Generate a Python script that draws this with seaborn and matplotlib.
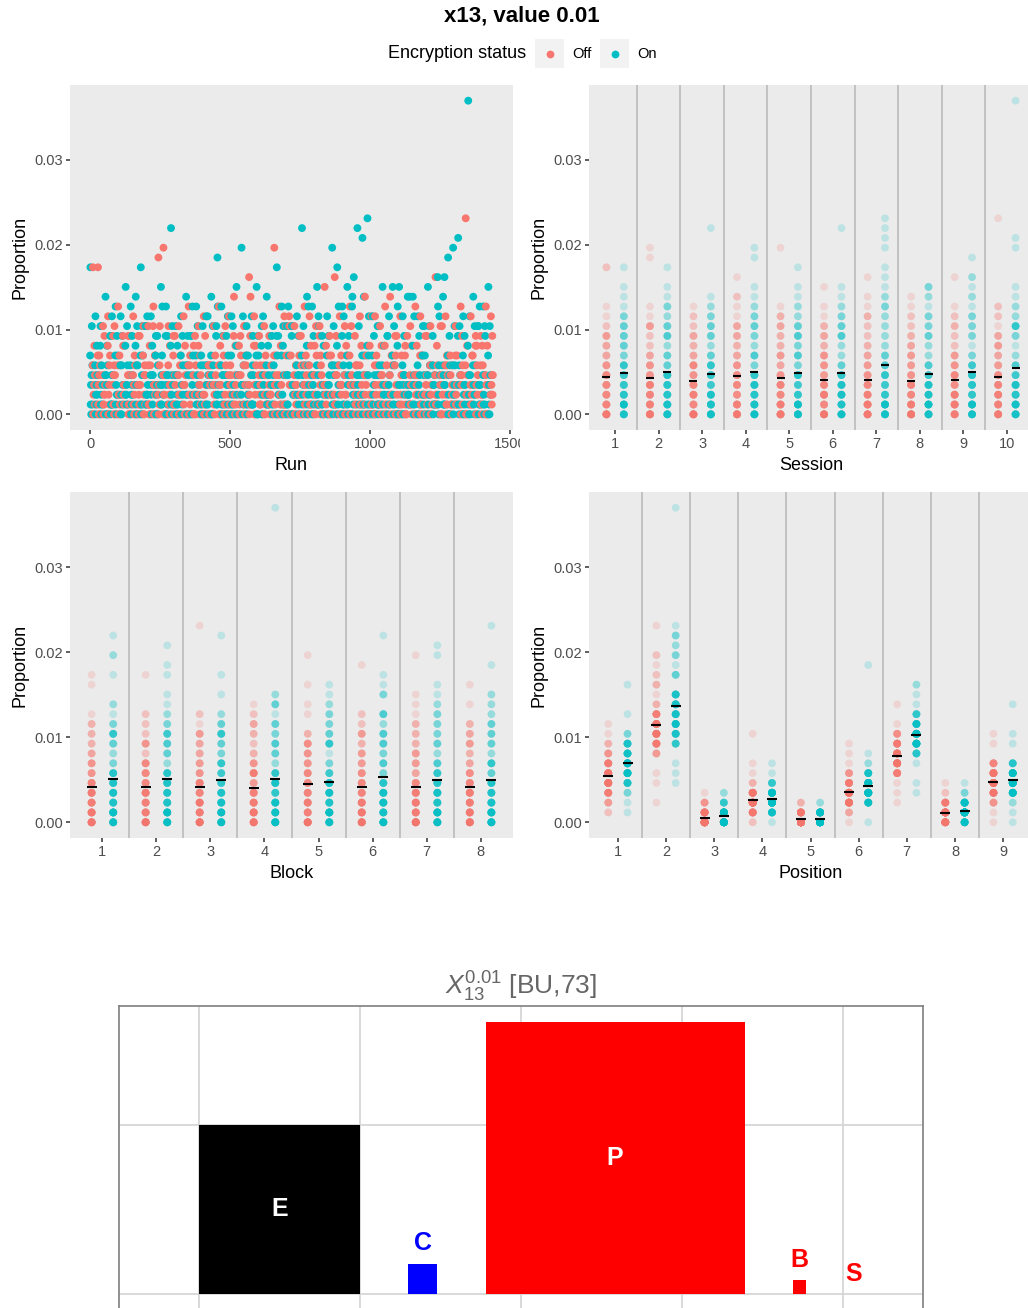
import numpy as np
import pandas as pd
import matplotlib
matplotlib.use("Agg")
import matplotlib.pyplot as plt
from matplotlib.patches import Rectangle
from matplotlib.lines import Line2D
from matplotlib.ticker import FormatStrFormatter
from matplotlib.transforms import Bbox, TransformedBbox
import seaborn as sns

plt.rcParams['font.family'] = ['Liberation Sans', 'DejaVu Sans']
plt.rcParams['mathtext.fontset'] = 'custom'
plt.rcParams['mathtext.rm'] = 'Liberation Sans'
plt.rcParams['mathtext.it'] = 'Liberation Sans:italic'
plt.rcParams['mathtext.bf'] = 'Liberation Sans:bold'

# ---------------- data ----------------
STATUS = ["Off", "On"]
PALETTE = {"Off": "#F8766D", "On": "#00BFC4"}
COUNT_UNIT = 1 / 865          # proportion per observed count
RUNS_PER_SESSION, RUNS_PER_BLOCK, N_POS = 144, 18, 9

# counts (base-36 digits) per position; each string = sessions 1..10, 8 blocks each
OFF_COUNTS = [
    "56473584 43659245 64354725 35648453 7453641a 46354836 25463547 53745164 46254356 64537542",
    "ff9a8b78 a899bgh9 89ab79a5 9b8ac79e a898hba9 98ba79d8 ea9b8ac2 a9bc8a79 ba89e9a4 9bka88ba",
    "01001020 10010001 00100200 10001010 02010003 00100100 10002010 01010001 00201001 10010102",
    "23124231 32213322 12320324 23122192 31223213 22512320 13231222 32126213 21322421 23213233",
    "00100010 01000100 10002000 00010001 01001000 00010020 10000100 00100001 01001010 10020001",
    "34235234 23413523 42352313 35234238 23423143 32342632 43235231 24323403 32432352 34237234",
    "76859678 68576947 85768685 6795786c 75686796 58679576 8679576a 67568627 76857963 68765778",
    "10210120 01102103 12010110 20101401 01120110 10211012 02101101 11020130 20111011 11012102",
    "45364534 53456342 36425435 43543654 54254369 35436425 43645341 54352483 46435245 35464504",
]
ON_COUNTS = [
    "65748657 57694638 74658655 68546726 46753869 85674516 5786b467 64586753 75648e56 58675946",
    "fa9c8bad bcf9a8db j9ac8b6a c9b8adh9 ad9c8fb4 9ajcbd8a hfbdcjik a9d8dbac ca9d5bcg hiawc9bd",
    "10100102 01012010 10020101 01100031 10011000 02100110 10010201 01101002 10200110 01013010",
    "32241322 23123243 21324213 42231230 13223621 32412232 25132324 21322132 32213242 23221323",
    "01001001 10010010 00100200 01001001 10010001 00200100 01001010 10010001 00101010 10000101",
    "43534253 35424364 42353425 3g432432 53424374 24353423 43543246 34235342 43423534 35342340",
    "9797a889 899a78b8 9788b99a 9b8a97a6 88a7989b 989b8a78 9ba8e9ca 897a9d83 a8994ae8 998a9b99",
    "12101211 20121031 11202101 02110412 10211210 21021103 12102111 01211021 11021310 21102112",
    "54354635 45634524 34546354 53463453 46345246 34534934 53453460 4534534c 34651435 54345384",
]

# bottom panel: square glyph sizes
LETTERS = ["E", "C", "P", "B", "S"]
SIDES = [1.0, 0.18, 1.61, 0.08, 0.0]
LETTER_COLORS = ["black", "blue", "red", "red", "red"]

rows = []
for status, table in zip(STATUS, [OFF_COUNTS, ON_COUNTS]):
    for pos, s in enumerate(table, start=1):
        vals = [int(c, 36) for c in s.replace(" ", "")]
        for i, k in enumerate(vals):
            sess, blk = i // 8 + 1, i % 8 + 1
            run = ((sess - 1) * RUNS_PER_SESSION + (blk - 1) * RUNS_PER_BLOCK
                   + (0 if status == "On" else N_POS) + (pos - 1))
            rows.append(dict(Run=run, Session=sess, Block=blk, Position=pos,
                             Status=status, Proportion=k * COUNT_UNIT))
df = pd.DataFrame(rows).sort_values("Run").reset_index(drop=True)

ymax = df["Proportion"].max()
ylo, yhi = -0.05 * ymax, 1.05 * ymax

# ---------------- figure ----------------
W, H = 1028, 1308
fig = plt.figure(figsize=(W / 100, H / 100), dpi=100)

def rect(l, t, r, b):
    return [l / W, 1 - b / H, (r - l) / W, (b - t) / H]

ax1 = fig.add_axes(rect(70, 85, 513, 430))
ax2 = fig.add_axes(rect(589, 85, 1033, 430))
ax3 = fig.add_axes(rect(70, 492, 513, 838))
ax4 = fig.add_axes(rect(589, 492, 1032, 838))

def style(ax, xlabel):
    ax.set_facecolor('#EBEBEB')
    for sp in ax.spines.values():
        sp.set_visible(False)
    ax.tick_params(length=2.75, width=1.1, color='#333333', labelcolor='#4D4D4D',
                   labelsize=10.5, pad=2.2)
    ax.set_ylim(ylo, yhi)
    ax.set_yticks([0, 0.01, 0.02, 0.03])
    ax.yaxis.set_major_formatter(FormatStrFormatter('%.2f'))
    ax.set_ylabel('Proportion', fontsize=13, labelpad=4)
    ax.set_xlabel(xlabel, fontsize=13, labelpad=4.5)
    ax.grid(False)

# Run scatter
sns.scatterplot(data=df, x="Run", y="Proportion", hue="Status", hue_order=STATUS,
                palette=PALETTE, s=32, linewidth=0, legend=False, ax=ax1)
style(ax1, "Run")
rmax = df["Run"].max()
ax1.set_xlim(-0.05 * rmax, 1.05 * rmax)
ax1.set_xticks([0, 500, 1000, 1500])
clip = TransformedBbox(Bbox([[0, 0], [520 / W, 1]]), fig.transFigure)
for lab in ax1.get_xticklabels():
    lab.set_clip_box(clip)
    lab.set_clip_on(True)

# categorical strip panels
for ax, col in [(ax2, "Session"), (ax3, "Block"), (ax4, "Position")]:
    n = df[col].nunique()
    sns.stripplot(data=df, x=col, y="Proportion", hue="Status", hue_order=STATUS,
                  palette=PALETTE, dodge=True, jitter=False, size=5.6, alpha=0.2,
                  linewidth=0, legend=False, ax=ax, zorder=2)
    for b in np.arange(n - 1) + 0.5:
        ax.axvline(b, color='#BEBEBE', lw=1.3, zorder=1)
    ppu = ax.get_position().width * W / (n + 0.2)
    ms = 0.2 * ppu * 0.72
    sns.pointplot(data=df, x=col, y="Proportion", hue="Status", hue_order=STATUS,
                  palette={"Off": "black", "On": "black"}, markers="_", linestyles="none",
                  dodge=0.4, errorbar=None, legend=False, ax=ax,
                  markersize=ms, markeredgewidth=1.5, zorder=3)
    style(ax, col)
    ax.set_xlim(-0.6, n - 0.4)

# title & legend
fig.text(522 / W, 1 - 16 / H, "x13, value 0.01", ha='center', va='center',
         fontsize=16, fontweight='bold')
fig.text(526 / W, 1 - 53.5 / H, "Encryption status", ha='right', va='center', fontsize=13)
for i, s in enumerate(STATUS):
    kx = 535 + 65 * i
    fig.patches.append(Rectangle((kx / W, 1 - 68 / H), 29 / W, 29 / H,
                                 transform=fig.transFigure, facecolor='#F2F2F2',
                                 edgecolor='none'))
    fig.lines.append(Line2D([(kx + 14.5) / W], [1 - 53.5 / H], transform=fig.transFigure,
                            marker='o', ls='none', color=PALETTE[s], markersize=5.6,
                            markeredgewidth=0))
    fig.text((kx + 37) / W, 1 - 53.5 / H, s, ha='left', va='center', fontsize=10.5)

# bottom square-glyph panel
GAP = 0.3
ylim5 = (-0.3, 1.704)
bottom_px = 1294 + 0.3 * 169
ax5 = fig.add_axes(rect(119, 1006, 923, bottom_px))
sides = np.array(SIDES)
lefts = np.concatenate([[0], np.cumsum(sides[:-1])]) + GAP * np.arange(len(sides))
ax5.bar(lefts, sides, width=sides, align='edge', color=LETTER_COLORS, linewidth=0, zorder=2)
for x0, sd, lt, c in zip(lefts, sides, LETTERS, LETTER_COLORS):
    if sd > 0.5:
        ax5.text(x0 + sd / 2, sd / 2, lt, color='white', ha='center', va='center',
                 fontsize=18, fontweight='bold', zorder=3)
    else:
        ax5.text(x0 + sd / 2, sd + 0.12, lt, color=c, ha='center', va='center',
                 fontsize=18, fontweight='bold', zorder=3)
ax5.set_xlim(-0.5, 4.5)
ax5.set_ylim(*ylim5)
ax5.set_xticks(range(5))
ax5.set_yticks([0, 1])
ax5.grid(color='#D3D3D3', lw=1.2)
ax5.set_axisbelow(True)
ax5.tick_params(length=0, labelbottom=False, labelleft=False)
for sp in ax5.spines.values():
    sp.set_color('#7F7F7F')
    sp.set_linewidth(1.2)
fig.text(521 / W, 1 - 987 / H, r'$X_{13}^{0.01}$ [BU,73]', ha='center', va='center',
         fontsize=19, color='#666666')

fig.savefig("out.png", dpi=100)
